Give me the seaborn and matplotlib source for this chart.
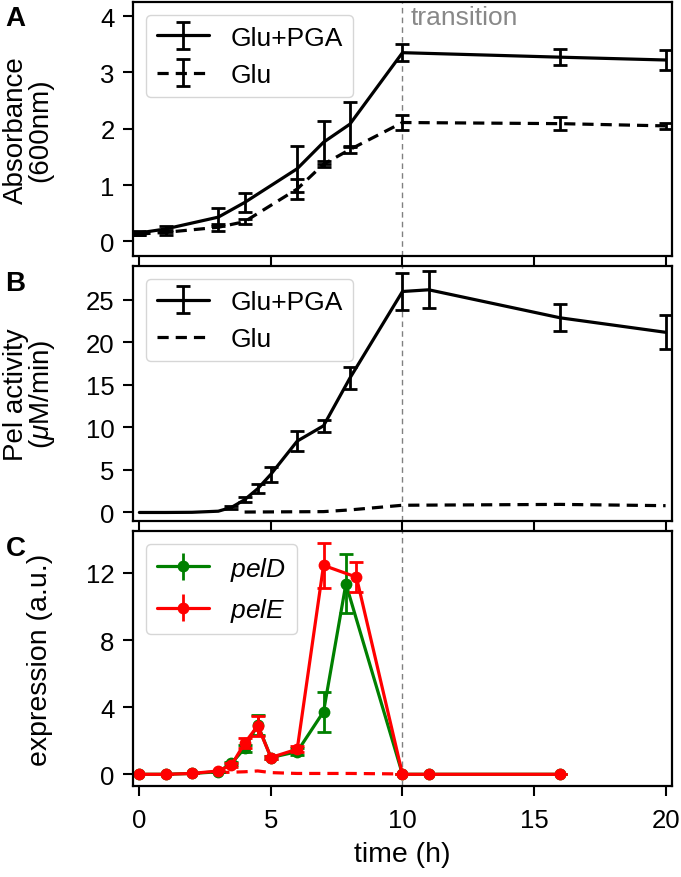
import numpy as np
import pandas as pd
import matplotlib
matplotlib.use("Agg")
import matplotlib.pyplot as plt
import seaborn as sns

# ---------------- data ----------------
# Panel A: absorbance
a_time = [0, 1, 3, 4, 6, 7, 8, 10, 16, 20]
a_pga = [0.15, 0.22, 0.43, 0.69, 1.29, 1.76, 2.08, 3.35, 3.27, 3.22]
a_pga_err = [0.04, 0.06, 0.16, 0.17, 0.41, 0.38, 0.40, 0.15, 0.14, 0.18]
a_glu = [0.13, 0.16, 0.25, 0.35, 0.93, 1.37, 1.63, 2.11, 2.09, 2.05]
a_glu_err = [0.02, 0.05, 0.06, 0.04, 0.17, 0.05, 0.06, 0.13, 0.11, 0.05]

# Panel B: Pel activity
b_time = [0, 1, 2, 3, 3.5, 4, 4.5, 5, 6, 7, 8, 10, 11, 16, 20]
b_pga = [0.0, 0.0, 0.02, 0.15, 0.6, 1.5, 2.8, 4.5, 8.4, 10.2, 15.8, 26.0, 26.2, 22.9, 21.2]
b_pga_err = [0, 0, 0, 0, 0.2, 0.3, 0.5, 0.9, 1.2, 0.7, 1.3, 2.2, 2.2, 1.6, 2.0]
b_glu_time = [4, 7, 8, 10, 16, 20]
b_glu = [0.05, 0.1, 0.3, 0.85, 0.95, 0.8]

# Panel C: expression
c_time_d = [0, 1, 2, 3, 3.5, 4, 4.5, 5, 6, 7, 7.85, 10, 11, 16]
c_peld = [0, 0, 0.05, 0.15, 0.65, 1.55, 2.95, 1.0, 1.35, 3.73, 11.35, 0, 0, 0]
c_peld_err = [0, 0, 0, 0, 0.1, 0.2, 0.6, 0.1, 0.2, 1.2, 1.75, 0, 0, 0]
c_time_e = [0, 1, 2, 3, 3.5, 4, 4.5, 5, 6, 7, 8.25, 10, 11, 16]
c_pele = [0, 0, 0.05, 0.2, 0.55, 1.85, 2.9, 1.0, 1.5, 12.45, 11.75, 0, 0, 0]
c_pele_err = [0, 0, 0, 0, 0.1, 0.3, 0.6, 0.1, 0.2, 1.35, 0.9, 0, 0, 0]
c_glu_time = [3, 4, 4.5, 5, 6, 7, 8, 10]
c_glu_pele = [0.1, 0.15, 0.2, 0.1, 0.05, 0.05, 0.05, 0.02]

transition_time = 10

# ---------------- style ----------------
sns.set_style("ticks")
plt.rcParams["font.family"] = ["Liberation Sans", "DejaVu Sans"]
plt.rcParams["mathtext.fontset"] = "custom"
plt.rcParams["mathtext.it"] = "Liberation Sans:italic"
plt.rcParams["mathtext.rm"] = "Liberation Sans"
for k in ["text.color", "axes.labelcolor", "xtick.color", "ytick.color", "axes.edgecolor"]:
    plt.rcParams[k] = "black"
plt.rcParams["axes.linewidth"] = 1.6
plt.rcParams["xtick.major.width"] = 1.5
plt.rcParams["ytick.major.width"] = 1.5
plt.rcParams["xtick.major.size"] = 7
plt.rcParams["ytick.major.size"] = 7
plt.rcParams["xtick.major.pad"] = 9
plt.rcParams["ytick.major.pad"] = 6
plt.rcParams["xtick.labelsize"] = 18.5
plt.rcParams["ytick.labelsize"] = 18.5
plt.rcParams["axes.labelsize"] = 20.5
plt.rcParams["legend.fontsize"] = 19

fig = plt.figure(figsize=(6.81, 8.78), dpi=100)
left, width = 0.195, 0.792
axA = fig.add_axes([left, 0.7073, width, 0.2893])
axB = fig.add_axes([left, 0.4055, width, 0.2904])
axC = fig.add_axes([left, 0.1036, width, 0.2905])

lw = 2.3
eb = dict(fmt="none", capsize=5, elinewidth=2.0, capthick=2.0)


def proxy(ax, fmt, color, **kw):
    return ax.errorbar([np.nan], [np.nan], yerr=[1.0], fmt=fmt, color=color, lw=lw,
                       capsize=5, elinewidth=2, capthick=2, **kw)


# ---- Panel A ----
sns.lineplot(x=a_time, y=a_pga, ax=axA, color="black", lw=lw, legend=False)
axA.errorbar(a_time, a_pga, yerr=a_pga_err, ecolor="black", **eb)
sns.lineplot(x=a_time, y=a_glu, ax=axA, color="black", lw=lw, legend=False)
axA.lines[-1].set_linestyle((0, (3.5, 2.2)))
axA.errorbar(a_time, a_glu, yerr=a_glu_err, ecolor="black", **eb)
hA1 = proxy(axA, "-", "black")
hA2 = proxy(axA, "--", "black")
hA2.lines[0].set_dashes((3.5, 2.2))
axA.legend([hA1, hA2], ["Glu+PGA", "Glu"], loc="upper left")
axA.set_ylim(-0.26, 4.25)
axA.set_yticks([0, 1, 2, 3, 4])
axA.set_ylabel("Absorbance\n(600nm)", linespacing=0.9, fontsize=20)
axA.text(10.3, 4.2, "transition", color="#888888", fontsize=19, va="top", ha="left")

# ---- Panel B ----
sns.lineplot(x=b_time, y=b_pga, ax=axB, color="black", lw=lw, legend=False)
mask = [e > 0 for e in b_pga_err]
axB.errorbar(np.array(b_time)[mask], np.array(b_pga)[mask], yerr=np.array(b_pga_err)[mask],
             ecolor="black", **eb)
sns.lineplot(x=b_glu_time, y=b_glu, ax=axB, color="black", lw=lw, legend=False)
axB.lines[-1].set_linestyle((0, (3.5, 2.2)))
hB1 = proxy(axB, "-", "black")
hB2, = axB.plot([], [], color="black", lw=lw, linestyle=(0, (3.5, 2.2)))
axB.legend([hB1, hB2], ["Glu+PGA", "Glu"], loc="upper left")
axB.set_ylim(-1.0, 29.0)
axB.set_yticks([0, 5, 10, 15, 20, 25])
axB.set_ylabel("Pel activity\n($\\mu$M/min)", linespacing=0.9, fontsize=20)

# ---- Panel C ----
sns.lineplot(x=c_glu_time, y=c_glu_pele, ax=axC, color="red", lw=lw, legend=False)
axC.lines[-1].set_linestyle((0, (3.5, 2.2)))
sns.lineplot(x=c_time_d, y=c_peld, ax=axC, color="green", lw=lw, marker="o",
             markersize=8.5, markeredgewidth=0, legend=False)
axC.errorbar(c_time_d, c_peld, yerr=c_peld_err, ecolor="green", **eb)
sns.lineplot(x=c_time_e, y=c_pele, ax=axC, color="red", lw=lw, marker="o",
             markersize=8.5, markeredgewidth=0, legend=False)
axC.errorbar(c_time_e, c_pele, yerr=c_pele_err, ecolor="red", **eb)
hC1 = proxy(axC, "-o", "green", ms=8.5, mew=0)
hC2 = proxy(axC, "-o", "red", ms=8.5, mew=0)
axC.legend([hC1, hC2], ["$\\it{pelD}$", "$\\it{pelE}$"], loc="upper left")
axC.set_ylim(-0.7, 14.5)
axC.set_yticks([0, 4, 8, 12])
axC.set_ylabel("expression (a.u.)")
axC.set_xlabel("time (h)", labelpad=6)

for ax in [axA, axB, axC]:
    ax.set_xlim(-0.25, 20.25)
    ax.set_xticks([0, 5, 10, 15, 20])
    ax.axvline(transition_time, color="gray", ls="--", lw=1, dashes=(4, 3), zorder=0)
    for s in ax.spines.values():
        s.set_visible(True)
    ax.tick_params(direction="out")
axA.yaxis.set_label_coords(-0.148, 0.5)
axB.yaxis.set_label_coords(-0.141, 0.5)
axC.yaxis.set_label_coords(-0.148, 0.5)
for ax in [axA, axB]:
    ax.tick_params(labelbottom=False)
    ax.set_xlabel("")

fig.text(0.008, 0.978, "A", fontsize=20, fontweight="bold", va="center")
fig.text(0.008, 0.677, "B", fontsize=20, fontweight="bold", va="center")
fig.text(0.008, 0.375, "C", fontsize=20, fontweight="bold", va="center")

fig.savefig("out.png", dpi=100)
